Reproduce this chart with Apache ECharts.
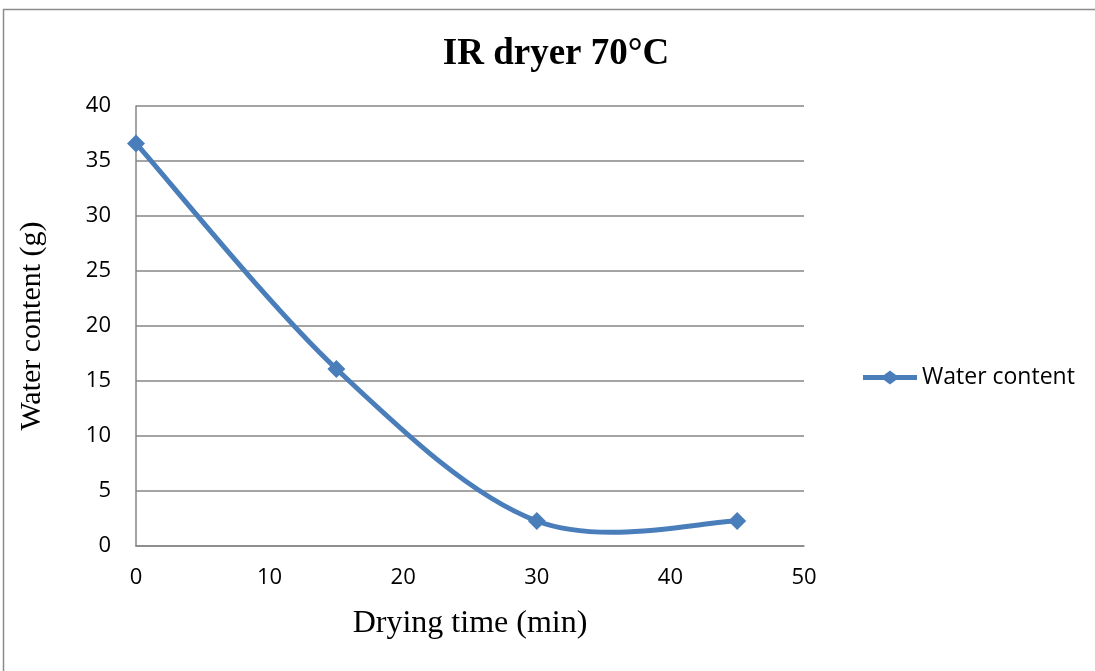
<!DOCTYPE html>
<html><head><meta charset="utf-8">
<script src="https://cdn.jsdelivr.net/npm/echarts@6/dist/echarts.min.js"></script>
<style>html,body{margin:0;padding:0;background:#fff}#c{width:1095px;height:671px}</style>
</head><body><div id="c"></div>
<script>
const title = 'IR dryer 70°C';
const seriesName = 'Water content';
const xValues = [0, 15, 30, 45];
const yValues = [36.6, 16.1, 2.27, 2.27];
const xTicks = [0, 10, 20, 30, 40, 50];
const yTicks = [0, 5, 10, 15, 20, 25, 30, 35, 40];

const points = xValues.map((x, i) => [x, yValues[i]]);
const lineColor = '#4a7ebb';

// Excel-style smoothed curve (Catmull-Rom through the data points, via the axis scales)
function renderCurve(params, api) {
  if (params.dataIndex !== 0) return null;
  const p = points.map(v => api.coord(v));
  const n = p.length;
  let d = 'M' + p[0][0] + ',' + p[0][1];
  for (let i = 0; i < n - 1; i++) {
    const p0 = p[Math.max(i - 1, 0)], p1 = p[i], p2 = p[i + 1], p3 = p[Math.min(i + 2, n - 1)];
    const c1x = p1[0] + (p2[0] - p0[0]) / 6, c1y = p1[1] + (p2[1] - p0[1]) / 6;
    const c2x = p2[0] - (p3[0] - p1[0]) / 6, c2y = p2[1] - (p3[1] - p1[1]) / 6;
    d += ' C' + c1x + ',' + c1y + ' ' + c2x + ',' + c2y + ' ' + p2[0] + ',' + p2[1];
  }
  return {type: 'path', shape: {pathData: d},
    style: {fill: 'none', stroke: lineColor, lineWidth: 5, lineJoin: 'round', lineCap: 'round'}};
}

const chart = echarts.init(document.getElementById('c'), null, {renderer: 'canvas'});
chart.setOption({
  backgroundColor: '#fff',
  animation: false,
  graphic: [{type: 'rect', shape: {x: 3.5, y: 9.5, width: 1200, height: 700}, style: {fill: 'none', stroke: '#8c8c8c', lineWidth: 1.5}}],
  title: {text: title, left: 551, top: 31, textAlign: 'center',
    textStyle: {fontFamily: 'Liberation Serif', fontWeight: 'bold', fontSize: 37, color: '#000'}},
  legend: {left: 858, top: 361, itemWidth: 54, itemHeight: 14, itemGap: 0,
    textStyle: {fontFamily: 'Open Sans', fontSize: 23, color: '#000'},
    data: [{name: seriesName, icon: 'path://M0,4.5 L21,4.5 L27,0 L33,4.5 L54,4.5 L54,9.5 L33,9.5 L27,14 L21,9.5 L0,9.5 Z'}]},
  grid: {left: 136, right: 291, top: 106, bottom: 125},
  xAxis: {type: 'value', min: 0, max: 50, interval: 10,
    name: 'Drying time (min)', nameLocation: 'middle', nameGap: 62,
    nameTextStyle: {fontFamily: 'Liberation Serif', fontSize: 32, color: '#000'},
    axisLine: {lineStyle: {color: '#868686', width: 1.5}},
    axisTick: {show: false},
    axisLabel: {fontFamily: 'Open Sans', fontSize: 22, color: '#000', margin: 21,
      formatter: v => xTicks.includes(v) ? String(v) : ''},
    splitLine: {show: false}},
  yAxis: {type: 'value', min: 0, max: 40, interval: 5,
    name: 'Water content (g)', nameLocation: 'middle', nameGap: 89,
    nameTextStyle: {fontFamily: 'Liberation Serif', fontSize: 30, color: '#000'},
    axisLine: {show: true, lineStyle: {color: '#868686', width: 1.5}},
    axisTick: {show: false},
    axisLabel: {fontFamily: 'Open Sans', fontSize: 22, color: '#000', margin: 25,
      formatter: v => yTicks.includes(v) ? String(v) : ''},
    splitLine: {lineStyle: {color: '#868686', width: 1.5}}},
  series: [
    {name: seriesName, type: 'custom', renderItem: renderCurve, data: points,
      itemStyle: {color: lineColor}, silent: true, z: 2},
    {name: seriesName, type: 'line', data: points,
      symbol: 'diamond', symbolSize: 18,
      itemStyle: {color: lineColor},
      lineStyle: {color: lineColor, width: 0, opacity: 0}, z: 3}
  ]
});
</script></body></html>
